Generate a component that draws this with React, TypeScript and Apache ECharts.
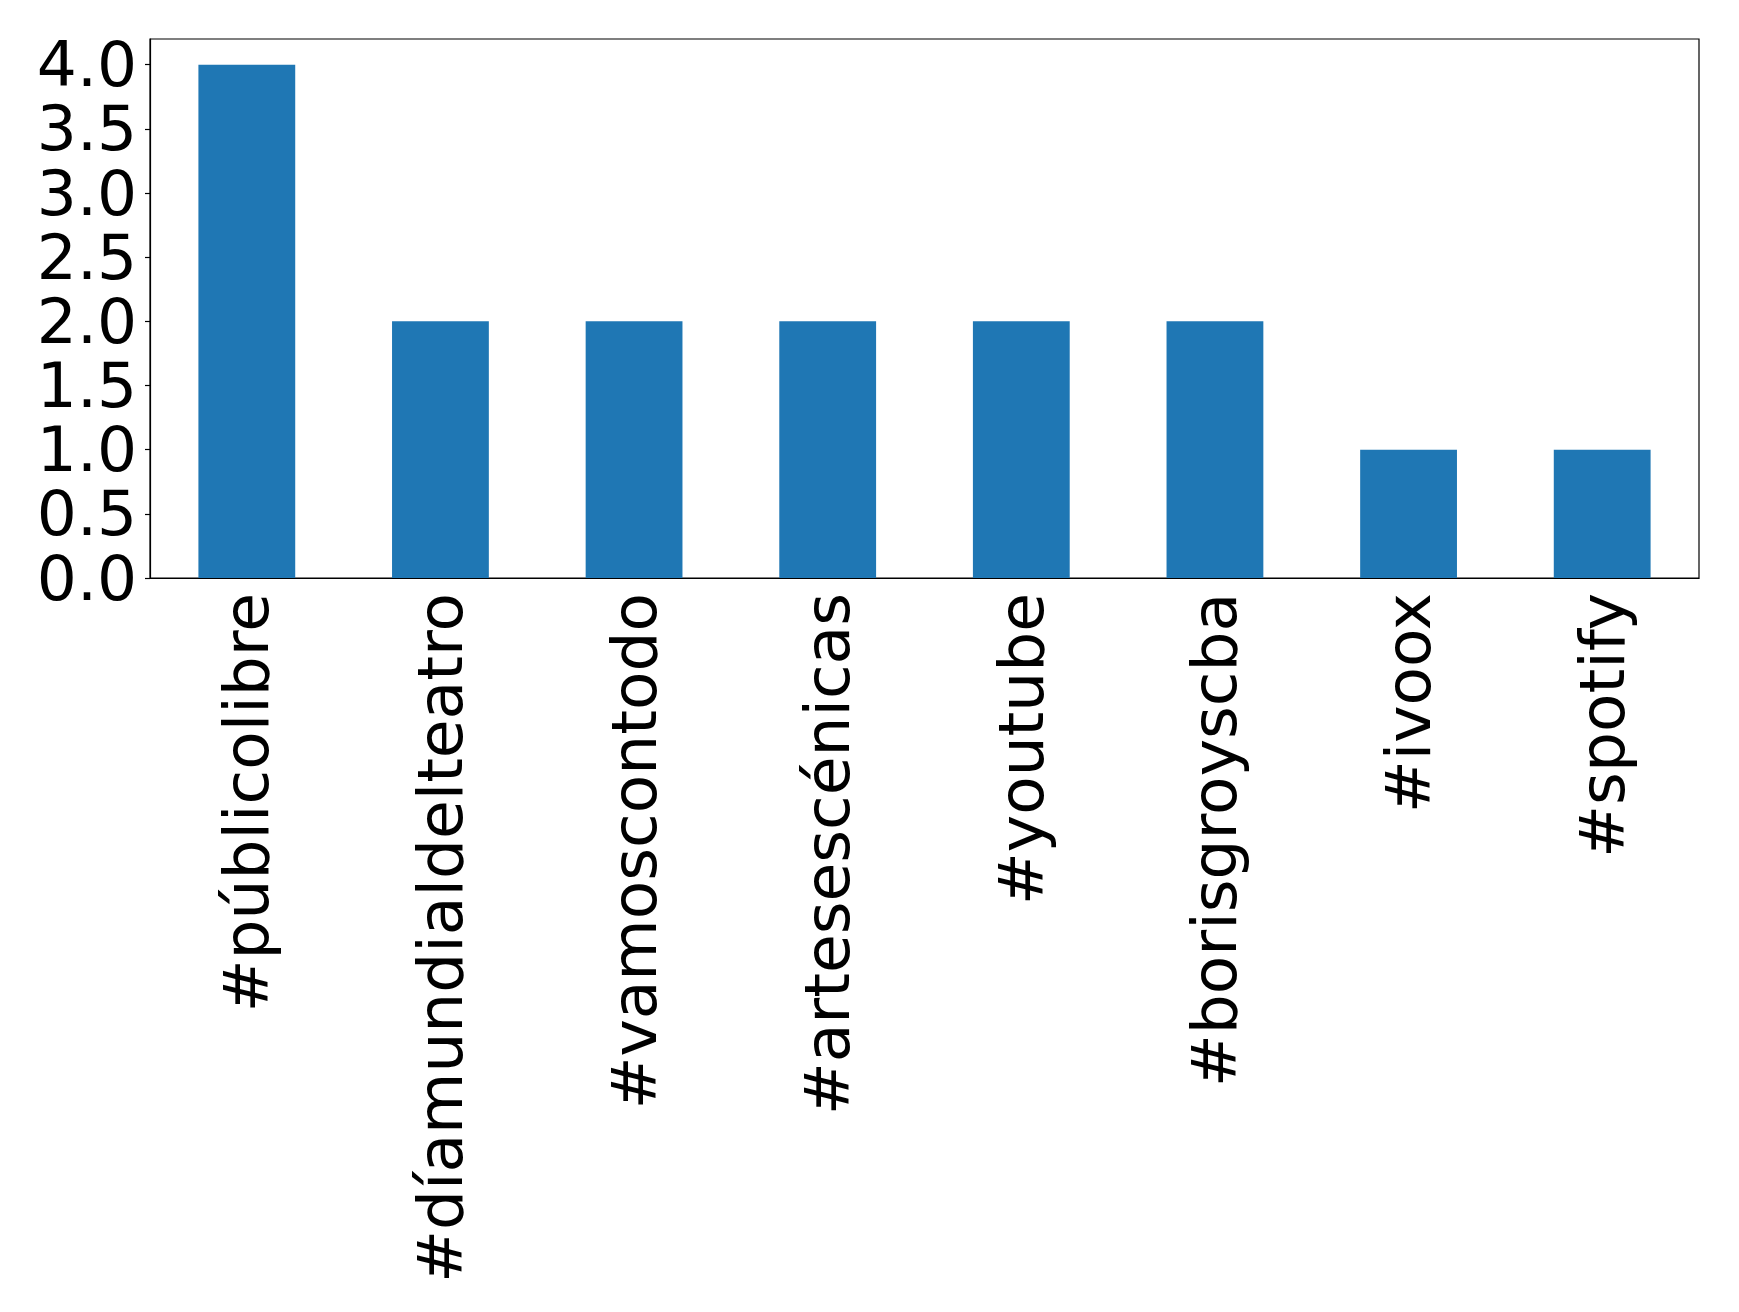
import React, { useEffect, useRef } from "react";
import * as echarts from "echarts";

const categories = [
  "#públicolibre",
  "#díamundialdelteatro",
  "#vamoscontodo",
  "#artesescénicas",
  "#youtube",
  "#borisgroyscba",
  "#ivoox",
  "#spotify",
];
const counts = [4, 2, 2, 2, 2, 2, 1, 1];
const yTicks = [0, 0.5, 1.0, 1.5, 2.0, 2.5, 3.0, 3.5, 4.0];

export default function App() {
  const ref = useRef<HTMLDivElement>(null);
  useEffect(() => {
    if (!ref.current) return;
    const chart = echarts.init(ref.current, null, { renderer: "svg" });
    const font = "DejaVu Sans";
    chart.setOption({
      animation: false,
      backgroundColor: "#ffffff",
      grid: {
        left: 150,
        top: 39,
        right: 40,
        bottom: 734,
        show: true,
        borderColor: "#000",
        borderWidth: 1.2,
        backgroundColor: "transparent",
      },
      xAxis: {
        type: "category",
        data: categories,
        boundaryGap: true,
        axisLine: { lineStyle: { color: "#000", width: 1.2 } },
        axisTick: { alignWithLabel: true, length: 5, lineStyle: { color: "#000", width: 1.2 } },
        axisLabel: {
          interval: 0,
          rotate: 90,
          margin: 15,
          color: "#000",
          fontFamily: font,
          fontSize: 63,
          lineHeight: 63,
        },
      },
      yAxis: {
        type: "value",
        min: 0,
        max: 4.2,
        interval: 0.5,
        splitLine: { show: false },
        axisLine: { show: true, lineStyle: { color: "#000", width: 1.2 } },
        axisTick: {
          show: true,
          length: 5,
          customValues: yTicks,
          lineStyle: { color: "#000", width: 1.2 },
        },
        axisLabel: {
          customValues: yTicks,
          margin: 13,
          color: "#000",
          fontFamily: font,
          fontSize: 63,
          lineHeight: 56,
          formatter: (v: number) => v.toFixed(1),
        },
      },
      series: [
        {
          type: "bar",
          data: counts,
          barWidth: "50%",
          itemStyle: { color: "#1f77b4" },
        },
      ],
    });
    return () => chart.dispose();
  }, []);
  return (
    <div
      ref={ref}
      style={{ position: "fixed", left: 0, top: 0, width: 1739, height: 1312, background: "#fff" }}
    />
  );
}
